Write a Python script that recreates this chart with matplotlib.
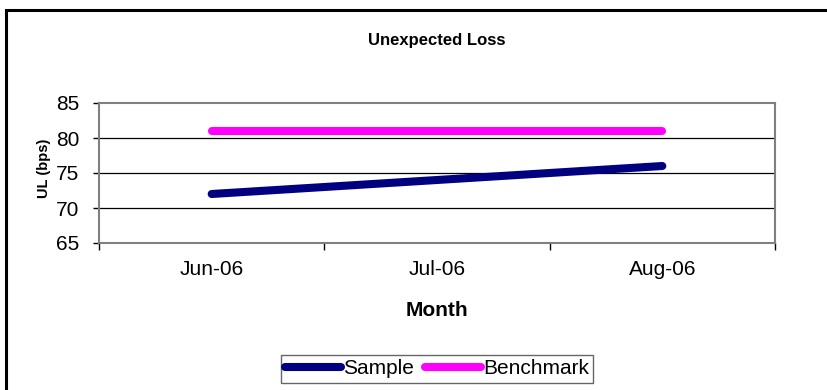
import matplotlib
matplotlib.use("Agg")
import matplotlib.pyplot as plt
from matplotlib.patches import Rectangle

plt.rcParams["font.family"] = ["Liberation Sans", "DejaVu Sans"]

months = ["Jun-06", "Jul-06", "Aug-06"]
sample = [72, 74, 76]
benchmark = [81, 81, 81]
y_ticks = [65, 70, 75, 80, 85]

fig = plt.figure(figsize=(8.28, 3.9), dpi=100)
ax = fig.add_axes([99 / 828, 1 - 243 / 390, 676 / 828, 140 / 390])

x = list(range(len(months)))
ax.plot(x, sample, color="#000080", lw=5.8, solid_capstyle="round", label="Sample", zorder=3)
ax.plot(x, benchmark, color="#FF00FF", lw=5.8, solid_capstyle="round", label="Benchmark", zorder=3)

ax.set_xlim(-0.5, len(months) - 0.5)
ax.set_ylim(65, 85)
ax.set_yticks(y_ticks)
ax.set_yticklabels([str(v) for v in y_ticks], fontsize=15)
ax.set_xticks(x)
ax.set_xticklabels(months, fontsize=15)
ax.set_xticks([i - 0.5 for i in range(len(months) + 1)], minor=True)
ax.tick_params(axis="x", which="major", length=0, pad=12)
ax.tick_params(axis="x", which="minor", length=5, width=1, color="#000000", direction="out")
ax.tick_params(axis="y", length=4, width=1, color="#000000", direction="out", pad=10)

# black gridlines only between the axis limits
for v in y_ticks[1:-1]:
    ax.axhline(v, color="#000000", lw=0.9, zorder=1)

for s in ax.spines.values():
    s.set_color("#808080")
    s.set_linewidth(1.5)

fig.text(437 / 828, 1 - 40 / 390, "Unexpected Loss", ha="center", va="center",
         fontsize=12, fontweight="bold")
fig.text(437 / 828, 1 - 311 / 390, "Month", ha="center", va="center",
         fontsize=15, fontweight="bold")
fig.text(44 / 828, 1 - 168 / 390, "UL (bps)", ha="center", va="center",
         rotation=90, fontsize=10.5, fontweight="bold")

leg = fig.legend(loc="center", bbox_to_anchor=(437 / 828, 1 - 369 / 390), ncol=2,
                 fontsize=15, frameon=True, fancybox=False, handlelength=2.7,
                 handletextpad=0.1, columnspacing=0.5, borderpad=0.2,
                 borderaxespad=0)
leg.get_frame().set_edgecolor("#404040")
leg.get_frame().set_linewidth(1)
for line in leg.get_lines():
    line.set_solid_capstyle("round")

# outer chart frame
fig.patches.append(Rectangle((6 / 828, -0.1), 1.0, 1 - 10 / 390 + 0.1,
                             transform=fig.transFigure, fill=False,
                             edgecolor="#000000", lw=2.2))

fig.savefig("out.png", dpi=100)
